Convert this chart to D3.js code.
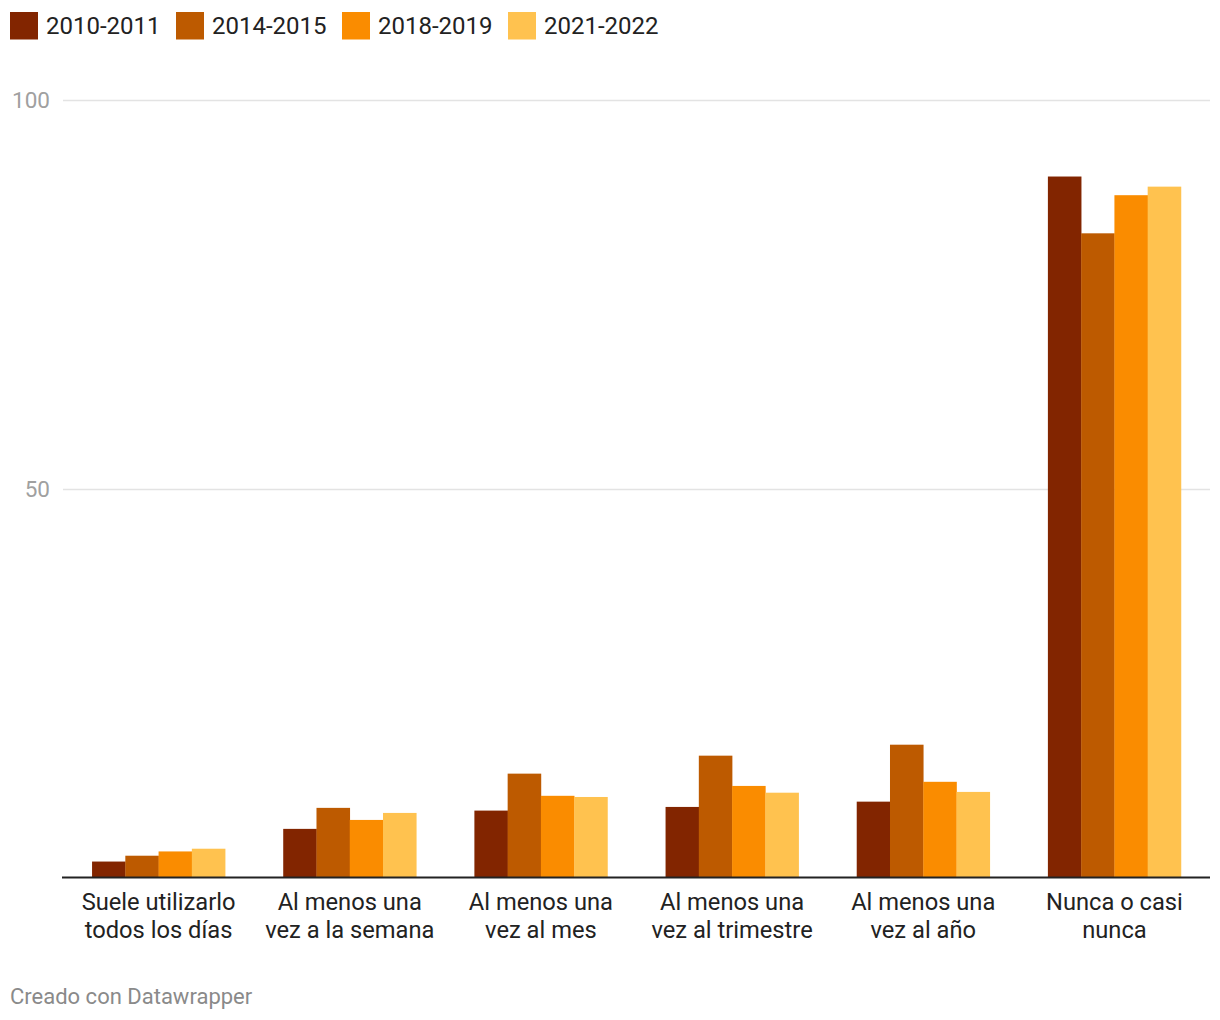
<!DOCTYPE html>
<html><head><meta charset="utf-8">
<script src="https://cdn.jsdelivr.net/npm/d3@7"></script>
<style>body{margin:0;background:#fff;font-family:Roboto,sans-serif}</style>
</head><body>
<svg id="c" width="1220" height="1020"></svg>
<script>
const categories = [
  ["Suele utilizarlo","todos los días"],
  ["Al menos una","vez a la semana"],
  ["Al menos una","vez al mes"],
  ["Al menos una","vez al trimestre"],
  ["Al menos una","vez al año"],
  ["Nunca o casi","nunca"]
];
const seriesNames = ["2010-2011","2014-2015","2018-2019","2021-2022"];
const colors = ["#822500","#bd5a00","#fa8c00","#ffc24f"];
const s2010 = [2.05, 6.25, 8.6, 9.07, 9.75, 90.1];
const s2014 = [2.8, 8.95, 13.35, 15.66, 17.07, 82.8];
const s2018 = [3.35, 7.4, 10.5, 11.77, 12.3, 87.7];
const s2021 = [3.7, 8.3, 10.35, 10.9, 11.0, 88.8];
const yTicks = [50, 100];

const series = [s2010, s2014, s2018, s2021];
const svg = d3.select("#c");
const x0 = d3.scaleBand().domain(d3.range(categories.length)).range([63, 1210]).paddingInner(0.304).paddingOuter(0.152);
const x1 = d3.scaleBand().domain(d3.range(seriesNames.length)).range([0, x0.bandwidth()]);
const y = d3.scaleLinear().domain([0, 100]).range([877.5, 99.5]);

// gridlines
svg.append("g").selectAll("line").data(yTicks).join("line")
  .attr("x1", 63).attr("x2", 1210)
  .attr("y1", d => Math.round(y(d)) + 0.5).attr("y2", d => Math.round(y(d)) + 0.5)
  .attr("stroke", "#e3e3e3").attr("stroke-width", 1.3);
svg.append("g").selectAll("text").data(yTicks).join("text")
  .attr("x", 50).attr("y", d => y(d) + 8)
  .attr("text-anchor", "end").attr("fill", "#a0a0a0")
  .style("font-size", "22.5px").text(d => d);

// bars
const g = svg.append("g").selectAll("g").data(categories).join("g")
  .attr("transform", (d, i) => `translate(${x0(i)},0)`);
g.selectAll("rect").data((d, i) => series.map((s, k) => ({k, v: s[i]}))).join("rect")
  .attr("x", d => x1(d.k)).attr("width", x1.bandwidth() + 0.3)
  .attr("y", d => y(d.v)).attr("height", d => y(0) - y(d.v))
  .attr("fill", d => colors[d.k]);

// baseline
svg.append("line").attr("x1", 62).attr("x2", 1210).attr("y1", 877.5).attr("y2", 877.5)
  .attr("stroke", "#222").attr("stroke-width", 2);

// category labels
const lab = svg.append("g").selectAll("text").data(categories).join("text")
  .attr("text-anchor", "middle").attr("fill", "#222").style("font-size", "23.7px");
lab.each(function(d, i) {
  const t = d3.select(this);
  d.forEach((line, j) => t.append("tspan").attr("x", x0(i) + x0.bandwidth() / 2).attr("y", 910 + j * 27.8).text(line));
});

// legend
const legX = [10, 176, 342, 508];
const leg = svg.append("g").selectAll("g").data(seriesNames).join("g")
  .attr("transform", (d, i) => `translate(${legX[i]},12)`);
leg.append("rect").attr("width", 28).attr("height", 27.5).attr("fill", (d, i) => colors[i]);
leg.append("text").attr("x", 36).attr("y", 22.3).attr("fill", "#222")
  .style("font-size", "24px").text(d => d);

svg.append("text").attr("x", 10).attr("y", 1004).attr("fill", "#8a8a8a")
  .style("font-size", "22px").text("Creado con Datawrapper");
</script>
</body></html>
